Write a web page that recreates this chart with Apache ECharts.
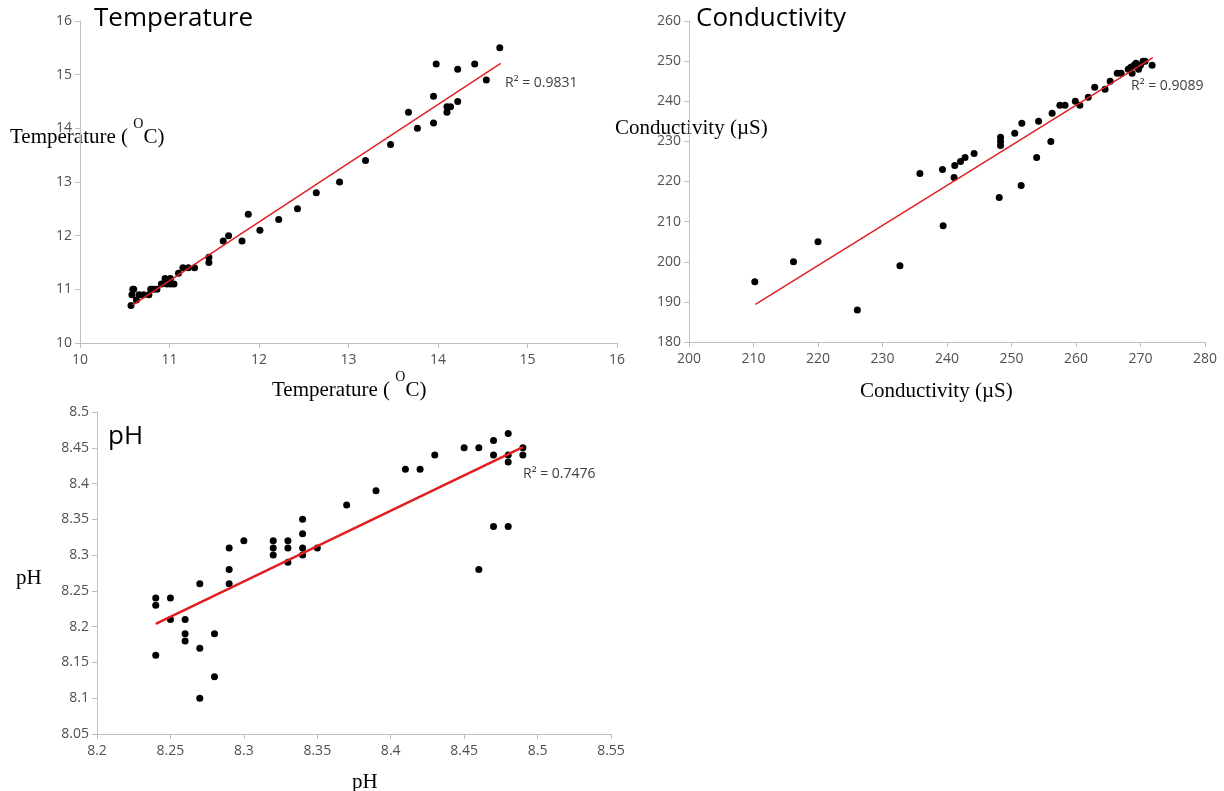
<!DOCTYPE html>
<html>
<head>
<meta charset="utf-8">
<script src="https://cdn.jsdelivr.net/npm/echarts@6/dist/echarts.min.js"></script>
<style>
  html, body { margin: 0; padding: 0; background: #fff; }
  #main { width: 1224px; height: 791px; }
</style>
</head>
<body>
<div id="main"></div>
<script>
// temperature: [x, y]
var tempPoints = [
  [10.57, 10.7], [10.58, 10.9], [10.59, 11.0], [10.6, 11.0], [10.63, 10.8], [10.66, 10.9],
  [10.71, 10.9], [10.77, 10.9], [10.79, 11.0], [10.82, 11.0], [10.86, 11.0], [10.91, 11.1],
  [10.95, 11.2], [10.97, 11.1], [11.01, 11.2], [11.01, 11.1], [11.05, 11.1], [11.1, 11.3],
  [11.15, 11.4], [11.21, 11.4], [11.28, 11.4], [11.44, 11.6], [11.44, 11.5], [11.6, 11.9],
  [11.66, 12.0], [11.81, 11.9], [11.88, 12.4], [12.01, 12.1], [12.22, 12.3], [12.43, 12.5],
  [12.64, 12.8], [12.9, 13.0], [13.19, 13.4], [13.47, 13.7], [13.67, 14.3], [13.77, 14.0],
  [13.95, 14.6], [13.95, 14.1], [13.98, 15.2], [14.1, 14.3], [14.1, 14.4], [14.14, 14.4],
  [14.22, 14.5], [14.22, 15.1], [14.41, 15.2], [14.54, 14.9], [14.69, 15.5]
];
var tempTrend = [[10.59, 10.71], [14.7, 15.21]];

var condPoints = [
  [210.2, 195], [216.2, 200], [220, 205], [226.1, 188], [232.7, 199], [235.8, 222],
  [239.3, 223], [239.4, 209], [241.1, 221], [241.2, 224], [242.1, 225], [242.8, 226],
  [244.2, 227], [248.1, 216], [248.3, 231], [248.3, 230], [248.3, 229], [250.5, 232],
  [251.5, 219], [251.6, 234.5], [253.9, 226], [254.2, 235], [256.1, 230], [256.3, 237],
  [257.5, 239], [258.3, 239], [259.9, 240], [260.6, 239], [261.9, 241], [262.9, 243.5],
  [264.5, 243], [265.3, 245], [266.4, 247], [267, 247], [268.1, 248], [268.5, 248.5],
  [268.7, 247], [269, 249], [269.3, 249.5], [269.7, 248], [270, 249], [270.4, 250],
  [270.7, 250], [271.8, 249]
];
var condTrend = [[210.3, 189.4], [271.9, 250.9]];

var phPoints = [
  [8.24, 8.24], [8.24, 8.23], [8.24, 8.16], [8.25, 8.24], [8.25, 8.21], [8.26, 8.21],
  [8.26, 8.19], [8.26, 8.18], [8.27, 8.26], [8.27, 8.17], [8.27, 8.10], [8.28, 8.19],
  [8.28, 8.13], [8.29, 8.31], [8.29, 8.28], [8.29, 8.26], [8.30, 8.32], [8.32, 8.32],
  [8.32, 8.31], [8.32, 8.30], [8.33, 8.32], [8.33, 8.31], [8.33, 8.29], [8.34, 8.35],
  [8.34, 8.33], [8.34, 8.31], [8.34, 8.30], [8.35, 8.31], [8.37, 8.37], [8.39, 8.39],
  [8.41, 8.42], [8.42, 8.42], [8.43, 8.44], [8.45, 8.45], [8.46, 8.45], [8.46, 8.28],
  [8.47, 8.46], [8.47, 8.44], [8.47, 8.34], [8.48, 8.47], [8.48, 8.44], [8.48, 8.43],
  [8.48, 8.34], [8.49, 8.45], [8.49, 8.44]
];
var phTrend = [[8.24, 8.204], [8.49, 8.451]];

var r2Labels = ['R\u00b2 = 0.9831', 'R\u00b2 = 0.9089', 'R\u00b2 = 0.7476'];

var chart = echarts.init(document.getElementById('main'));

var axisGrey = '#bfbfbf';
var labelGrey = '#505050';

function valAxis(idx, min, max, step, isY) {
  return {
    type: 'value', gridIndex: idx, min: min, max: max, interval: step,
    axisLine: { show: true, lineStyle: { color: axisGrey, width: 1 } },
    axisTick: { show: true, length: 5, lineStyle: { color: axisGrey } },
    splitLine: { show: false },
    axisLabel: {
      color: labelGrey, fontSize: 14, fontFamily: 'Open Sans',
      margin: isY ? 8 : 10,
      formatter: function (v) { return String(+v.toFixed(2)); }
    }
  };
}

// axis names in serif; {sup|} is pinned to the top of a tall line box
function serif(text, x, y) {
  return {
    type: 'text', left: x, top: y,
    style: {
      text: text, fill: '#000', font: '21px "Liberation Serif"',
      rich: {
        sup: { fontSize: 14, fontFamily: 'Liberation Serif', verticalAlign: 'top', lineHeight: 10, fill: '#000' },
        n: { fontSize: 21, fontFamily: 'Liberation Serif', lineHeight: 40, fill: '#000' }
      }
    }
  };
}

function bigTitle(text, x, y) {
  return { type: 'text', left: x, top: y, style: { text: text, fill: '#000', font: '26px "Open Sans"' } };
}

function r2(text, x, y) {
  return { type: 'text', left: x, top: y, style: { text: text, fill: '#404040', font: '14px "Open Sans"' } };
}

function dots(idx, pts) {
  return {
    type: 'scatter', xAxisIndex: idx, yAxisIndex: idx, data: pts,
    symbol: 'circle', symbolSize: 7, itemStyle: { color: '#000', opacity: 1 }, silent: true
  };
}

function trend(idx, pts, w) {
  return {
    type: 'line', xAxisIndex: idx, yAxisIndex: idx, data: pts,
    symbol: 'none', lineStyle: { color: '#e02020', width: w }, silent: true, z: 3
  };
}

chart.setOption({
  animation: false,
  grid: [
    { left: 80, top: 21, width: 537, height: 322 },
    { left: 689, top: 21, width: 516, height: 321 },
    { left: 97, top: 412, width: 514, height: 322 }
  ],
  xAxis: [
    valAxis(0, 10, 16, 1, false),
    valAxis(1, 200, 280, 10, false),
    valAxis(2, 8.2, 8.55, 0.05, false)
  ],
  yAxis: [
    valAxis(0, 10, 16, 1, true),
    valAxis(1, 180, 260, 10, true),
    valAxis(2, 8.05, 8.5, 0.05, true)
  ],
  series: [
    dots(0, tempPoints), trend(0, tempTrend, 1.5),
    dots(1, condPoints), trend(1, condTrend, 1.5),
    dots(2, phPoints), trend(2, phTrend, 2.5)
  ],
  graphic: [
    bigTitle('Temperature', 94, 6),
    bigTitle('Conductivity', 696, 6),
    bigTitle('pH', 108, 424),
    r2(r2Labels[0], 505, 76),
    r2(r2Labels[1], 1131, 79),
    r2(r2Labels[2], 523, 467),
    serif('{n|Temperature ( }{sup|O}{n|C)}', 10, 117),
    serif('{n|Temperature ( }{sup|O}{n|C)}', 272, 370),
    serif('{n|Conductivity (\u00b5S)}', 615, 118),
    serif('{n|Conductivity (\u00b5S)}', 860, 381),
    serif('{n|pH}', 16, 568),
    serif('{n|pH}', 352, 772)
  ]
});
</script>
</body>
</html>
